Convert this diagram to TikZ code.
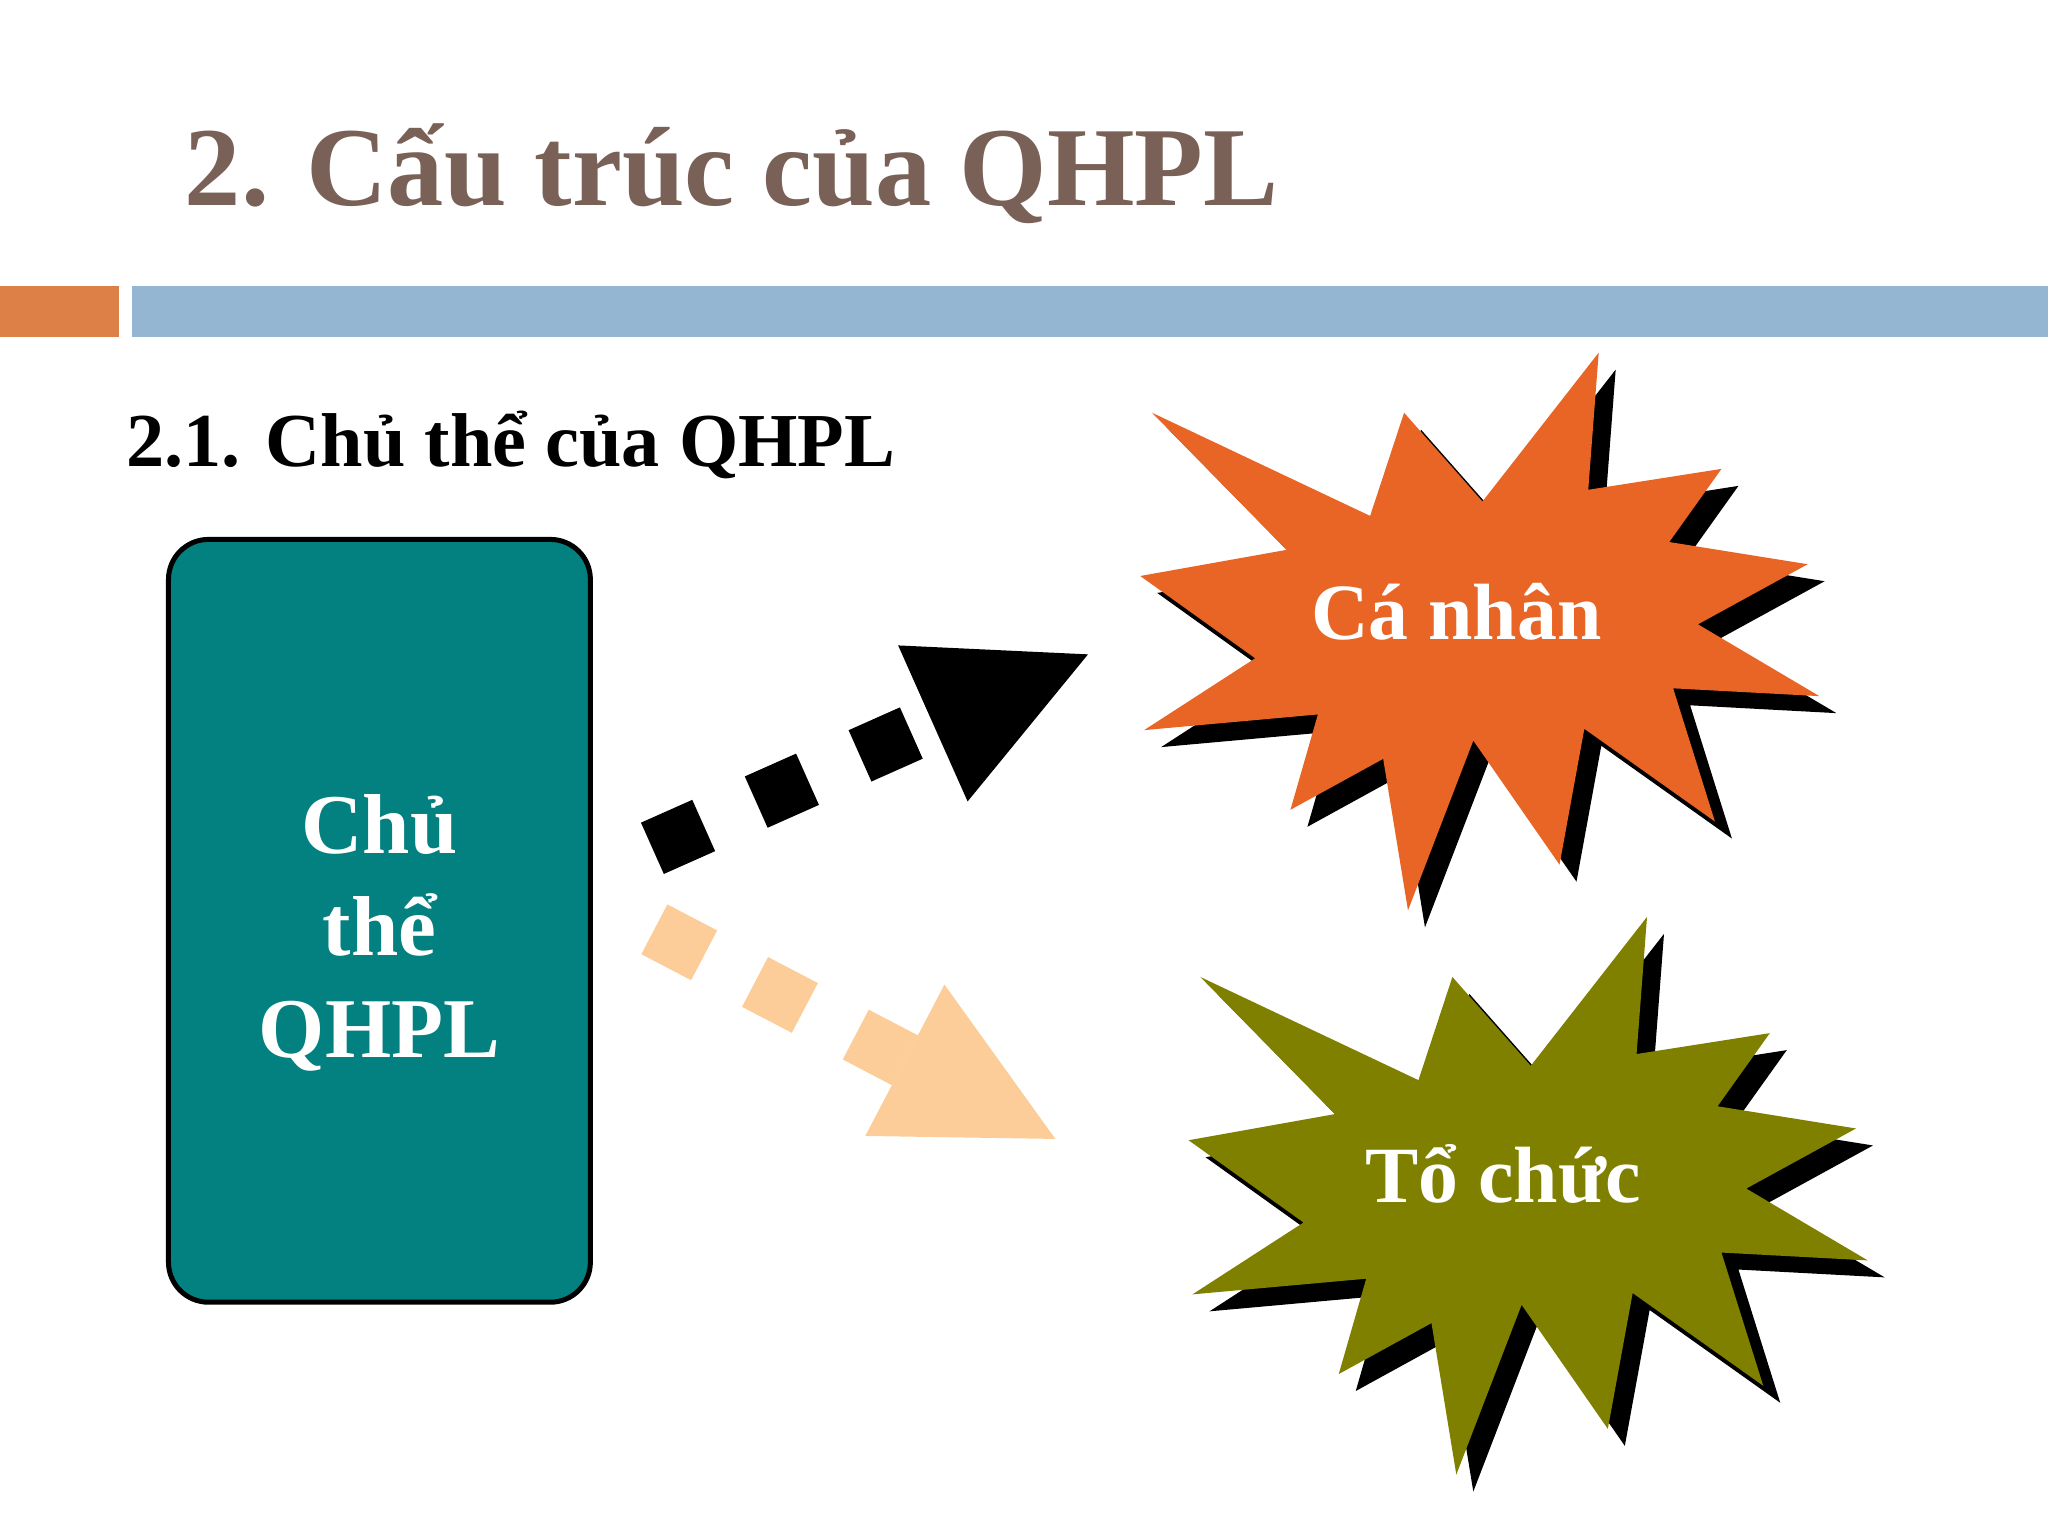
\documentclass[tikz,border=0pt]{standalone}
\usepackage{fontspec}
\setmainfont{Liberation Serif}
\usetikzlibrary{arrows.meta}
\definecolor{titlebrown}{HTML}{7A6157}
\definecolor{barorange}{HTML}{DD8047}
\definecolor{barblue}{HTML}{94B6D2}
\definecolor{boxteal}{HTML}{038080}
\definecolor{starorange}{HTML}{E96525}
\definecolor{starolive}{HTML}{808000}
\definecolor{arrowpeach}{HTML}{FCCC99}
% burst shape, drawn at an offset
\newcommand\burst[2]{\fill[#1,shift={(#2)}] (882,316) -- (1049,395) -- (1075,316) -- (1135,384) -- (1224,270) -- (1216,375) -- (1318,359) -- (1278,415) -- (1384,432) -- (1300,478) -- (1393,533) -- (1281,527) -- (1313,629) -- (1213,558) -- (1194,662) -- (1128,567) -- (1078,697) -- (1059,581) -- (988,620) -- (1009,547) -- (876,559) -- (961,504) -- (873,441) -- (985,421) -- cycle;}

\begin{document}
\begin{tikzpicture}[x=0.0130612cm,y=-0.0130612cm,
	dotarrow/.style={line width=0.5616cm, dash pattern=on 0.5616cm off 0.5747cm,
		-{Triangle[length=1.698cm,width=1.708cm,line width=0pt]}},
	startext/.style={text=white,inner sep=0pt,anchor=base,
		font=\fontsize{22.7}{27}\selectfont\bfseries}]
	%%%%% START %%%%%
	\def\shx{13}
	\def\shy{13}
	\def\dgx{37}
	\def\dgy{432}
	
	\useasboundingbox (0,0) rectangle (1568,1176);
	\fill[white] (0,0) rectangle (1568,1176);
	
	\node[anchor=base west,inner sep=0pt,text=titlebrown,font=\fontsize{32}{38}\selectfont\bfseries] (title) at (141,157) {2. Cấu trúc của QHPL};
	\fill[barorange] (0,219) rectangle (91,258);
	\fill[barblue] (101,219) rectangle (1568,258);
	\node[anchor=base west,inner sep=0pt,font=\fontsize{21.7}{26}\selectfont\bfseries] (sub) at (96,357) {2.1. Chủ thể của QHPL};
	
	\node[draw=black,line width=0.05cm,fill=boxteal,rounded corners=0.4cm,minimum width=4.219cm,minimum height=7.628cm,inner sep=0pt] (chuthe) at (290.5,705) {};
	\node[text=white,align=center,inner sep=0pt,font=\fontsize{24.2}{29}\selectfont\bfseries] (chuthetxt) at ([yshift=-0.12cm]chuthe.center) {Chủ\\thể\\QHPL};
	
	\burst{black}{\shx,\shy}
	\burst{starorange}{0,0}
	\burst{black}{\dgx+\shx,\dgy+\shy}
	\burst{starolive}{\dgx,\dgy}
	\node[startext] (canhan) at (1115,490) {Cá nhân};
	\node[startext] (tochuc) at (1151,921) {Tổ chức};
	
	\coordinate (blkstart) at (499.5,649.5);
	\coordinate (blktip) at (833,501);
	\coordinate (pchstart) at (501,711.5);
	\coordinate (pchtip) at (808,872);
	\draw[dotarrow,black] (blkstart) -- (blktip);
	\draw[dotarrow,arrowpeach] (pchstart) -- (pchtip);
	%%%%% END %%%%%
\end{tikzpicture}
\end{document}
